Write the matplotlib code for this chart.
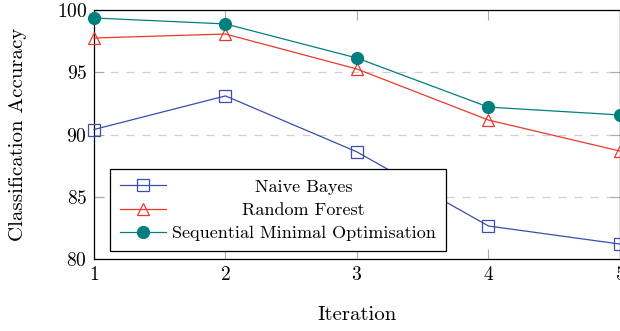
import numpy as np
import matplotlib
matplotlib.use("Agg")
import matplotlib.pyplot as plt

iterations = [1, 2, 3, 4, 5]
naive_bayes = [90.4, 93.1, 88.6, 82.65, 81.2]
random_forest = [97.75, 98.07, 95.26, 91.16, 88.67]
smo = [99.36, 98.88, 96.14, 92.2, 91.57]

plt.rcParams['font.family'] = 'serif'
plt.rcParams['font.serif'] = ['cmr10']
plt.rcParams['mathtext.fontset'] = 'cm'
plt.rcParams['axes.formatter.use_mathtext'] = True

fig = plt.figure(figsize=(6.2, 3.31), dpi=100)
ax = fig.add_axes([0.1516, 0.2175, 0.8484, 0.7523])

ax.plot(iterations, naive_bayes, color='#3a4db0', lw=0.9, marker='s', ms=8,
        mfc='none', mew=0.9, label='Naive Bayes', clip_on=False, zorder=3)
ax.plot(iterations, random_forest, color='#e8392e', lw=0.9, marker='^', ms=8.5,
        mfc='none', mew=0.9, label='Random Forest', clip_on=False, zorder=3)
ax.plot(iterations, smo, color='#007f7f', lw=0.9, marker='o', ms=8.5,
        label='Sequential Minimal Optimisation', clip_on=False, zorder=3)

ax.set_xlim(1, 5)
ax.set_ylim(80, 100)
ax.set_xticks(iterations)
ax.set_yticks([80, 85, 90, 95, 100])
ax.yaxis.grid(True, color='#d0d0d0', linestyle=(0, (6.4, 6.4)), lw=0.9)
ax.set_axisbelow(True)
ax.tick_params(direction='in', length=7, width=0.8, color='#aaaaaa',
               top=True, right=True, labelsize=14, pad=5)
for s in ax.spines.values():
    s.set_linewidth(0.9)

ax.set_xlabel('Iteration', fontsize=15)
ax.set_ylabel('Classification Accuracy', fontsize=15)
ax.xaxis.set_label_coords(0.5, -0.189)
ax.yaxis.set_label_coords(-0.128, 0.5)

leg = ax.legend(loc='lower left', bbox_to_anchor=(0.03, 0.032), fontsize=13,
                handlelength=2.55, handletextpad=0.33, fancybox=False,
                edgecolor='black', framealpha=1, borderaxespad=0,
                labelspacing=0.42, borderpad=0.55)
leg.get_frame().set_linewidth(0.9)

# centre the legend labels like the original
fig.canvas.draw()
texts = leg.get_texts()
widths = [t.get_window_extent().width for t in texts]
for t, w in zip(texts, widths):
    t.set_x((max(widths) - w) / 2)

fig.savefig('out.png', dpi=100)
